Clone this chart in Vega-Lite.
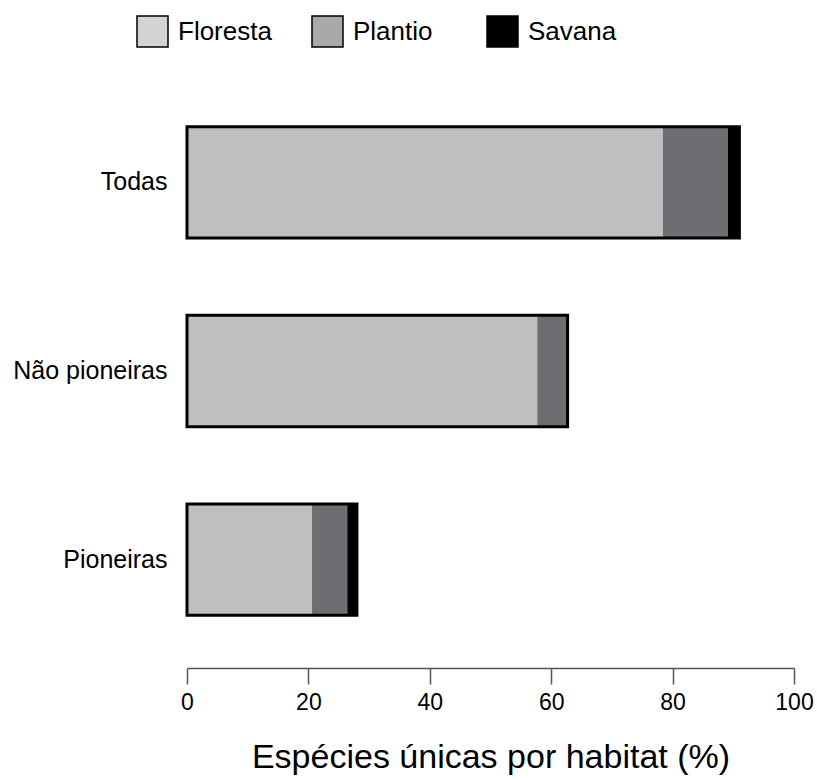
{
  "$schema": "https://vega.github.io/schema/vega-lite/v6.json",
  "autosize": "none",
  "width": 607,
  "height": 566,
  "padding": {"left": 187, "top": 88, "right": 23, "bottom": 126},
  "background": "white",
  "config": {
    "view": {"stroke": null},
    "font": "Liberation Sans"
  },
  "data": {
    "values": [
      {"group": "Todas", "habitat": "Floresta", "value": 78.4},
      {"group": "Todas", "habitat": "Plantio", "value": 10.7},
      {"group": "Todas", "habitat": "Savana", "value": 1.9},
      {"group": "Não pioneiras", "habitat": "Floresta", "value": 57.7},
      {"group": "Não pioneiras", "habitat": "Plantio", "value": 5.0},
      {"group": "Não pioneiras", "habitat": "Savana", "value": 0},
      {"group": "Pioneiras", "habitat": "Floresta", "value": 20.6},
      {"group": "Pioneiras", "habitat": "Plantio", "value": 5.8},
      {"group": "Pioneiras", "habitat": "Savana", "value": 1.6}
    ]
  },
  "encoding": {
    "y": {
      "field": "group",
      "type": "nominal",
      "sort": ["Todas", "Não pioneiras", "Pioneiras"],
      "scale": {"paddingInner": 0.41, "paddingOuter": 0.205},
      "axis": {
        "title": null,
        "domain": false,
        "ticks": false,
        "labelFontSize": 25,
        "labelColor": "black",
        "labelPadding": 20
      }
    }
  },
  "layer": [
    {
      "mark": {"type": "bar", "stroke": null},
      "encoding": {
        "x": {
          "field": "value",
          "type": "quantitative",
          "stack": "zero",
          "scale": {"domain": [0, 100], "nice": false},
          "axis": {
            "values": [0, 20, 40, 60, 80, 100],
            "grid": false,
            "offset": 14,
            "domainColor": "#555555",
            "domainWidth": 1.5,
            "tickColor": "#555555",
            "tickWidth": 1.5,
            "tickSize": 16,
            "labelFontSize": 23,
            "labelColor": "black",
            "labelPadding": 7,
            "labelFlush": false,
            "title": "Espécies únicas por habitat (%)",
            "titleFontSize": 34,
            "titleFontWeight": "normal",
            "titleColor": "black",
            "titleBaseline": "alphabetic",
            "titleY": 99
          }
        },
        "color": {
          "field": "habitat",
          "type": "nominal",
          "scale": {"domain": ["Floresta", "Plantio", "Savana"], "range": ["#bebfc1", "#6d6e71", "#000000"]},
          "legend": null
        },
        "order": {"field": "habitat", "sort": "ascending"}
      }
    },
    {
      "mark": {"type": "bar", "fillOpacity": 0, "stroke": "black", "strokeWidth": 3},
      "encoding": {
        "x": {"aggregate": "sum", "field": "value", "type": "quantitative"}
      }
    },
    {
      "mark": {"type": "square", "size": 0, "filled": true},
      "encoding": {
        "x": {"field": "value", "type": "quantitative"},
        "color": {
          "field": "habitat",
          "type": "nominal",
          "scale": {"domain": ["Floresta", "Plantio", "Savana"], "range": ["#d3d3d3", "#a9a9a9", "#000000"]},
          "legend": {
            "title": null,
            "orient": "none",
            "legendX": -51,
            "legendY": -73,
            "direction": "horizontal",
            "symbolType": "square",
            "symbolSize": 961,
            "symbolStrokeColor": "black",
            "symbolStrokeWidth": 1.5,
            "symbolOpacity": 1,
            "labelFontSize": 26,
            "labelColor": "black",
            "labelOffset": 9,
            "labelLimit": 300,
            "columnPadding": 37,
            "gridAlign": "all"
          }
        }
      }
    }
  ],
  "resolve": {"scale": {"color": "independent"}}
}
